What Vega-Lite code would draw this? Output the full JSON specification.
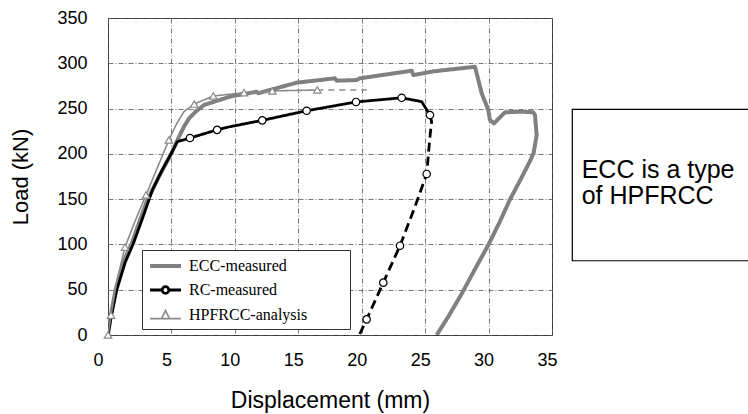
{
  "$schema": "https://vega.github.io/schema/vega-lite/v6.json",
  "autosize": "none",
  "padding": {"left": 108, "top": 18, "right": 196, "bottom": 79},
  "width": 444,
  "height": 317,
  "background": "white",
  "datasets": {
    "curves": [
      {"series": "ECC-measured", "phase": "test", "i": 0, "x": 0, "y": 0},
      {"series": "ECC-measured", "phase": "test", "i": 1, "x": 0.2, "y": 20},
      {"series": "ECC-measured", "phase": "test", "i": 2, "x": 0.6, "y": 50},
      {"series": "ECC-measured", "phase": "test", "i": 3, "x": 1.2, "y": 80},
      {"series": "ECC-measured", "phase": "test", "i": 4, "x": 1.87, "y": 101},
      {"series": "ECC-measured", "phase": "test", "i": 5, "x": 2.5, "y": 126},
      {"series": "ECC-measured", "phase": "test", "i": 6, "x": 3.1, "y": 149},
      {"series": "ECC-measured", "phase": "test", "i": 7, "x": 4.02, "y": 175},
      {"series": "ECC-measured", "phase": "test", "i": 8, "x": 4.94, "y": 199},
      {"series": "ECC-measured", "phase": "test", "i": 9, "x": 5.6, "y": 219},
      {"series": "ECC-measured", "phase": "test", "i": 10, "x": 5.99, "y": 230},
      {"series": "ECC-measured", "phase": "test", "i": 11, "x": 6.38, "y": 239},
      {"series": "ECC-measured", "phase": "test", "i": 12, "x": 6.91, "y": 246.6},
      {"series": "ECC-measured", "phase": "test", "i": 13, "x": 7.57, "y": 254},
      {"series": "ECC-measured", "phase": "test", "i": 14, "x": 8.62, "y": 258.7},
      {"series": "ECC-measured", "phase": "test", "i": 15, "x": 9.7, "y": 263.5},
      {"series": "ECC-measured", "phase": "test", "i": 16, "x": 11.72, "y": 268.6},
      {"series": "ECC-measured", "phase": "test", "i": 17, "x": 11.85, "y": 267},
      {"series": "ECC-measured", "phase": "test", "i": 18, "x": 13.03, "y": 271.5},
      {"series": "ECC-measured", "phase": "test", "i": 19, "x": 14.87, "y": 278.6},
      {"series": "ECC-measured", "phase": "test", "i": 20, "x": 17.89, "y": 283.4},
      {"series": "ECC-measured", "phase": "test", "i": 21, "x": 18.03, "y": 280.8},
      {"series": "ECC-measured", "phase": "test", "i": 22, "x": 19.6, "y": 281.5},
      {"series": "ECC-measured", "phase": "test", "i": 23, "x": 19.86, "y": 283.4},
      {"series": "ECC-measured", "phase": "test", "i": 24, "x": 23.94, "y": 291.8},
      {"series": "ECC-measured", "phase": "test", "i": 25, "x": 24.07, "y": 287},
      {"series": "ECC-measured", "phase": "test", "i": 26, "x": 24.85, "y": 289},
      {"series": "ECC-measured", "phase": "test", "i": 27, "x": 25.6, "y": 291},
      {"series": "ECC-measured", "phase": "test", "i": 28, "x": 28.93, "y": 296.2},
      {"series": "ECC-measured", "phase": "test", "i": 29, "x": 29.46, "y": 266.8},
      {"series": "ECC-measured", "phase": "test", "i": 30, "x": 29.98, "y": 248.4},
      {"series": "ECC-measured", "phase": "test", "i": 31, "x": 30.11, "y": 237.4},
      {"series": "ECC-measured", "phase": "test", "i": 32, "x": 30.43, "y": 233.7},
      {"series": "ECC-measured", "phase": "test", "i": 33, "x": 31.29, "y": 245.9},
      {"series": "ECC-measured", "phase": "test", "i": 34, "x": 32.61, "y": 246.6},
      {"series": "ECC-measured", "phase": "test", "i": 35, "x": 33.52, "y": 245.9},
      {"series": "ECC-measured", "phase": "test", "i": 36, "x": 33.66, "y": 242.9},
      {"series": "ECC-measured", "phase": "test", "i": 37, "x": 33.79, "y": 220.8},
      {"series": "ECC-measured", "phase": "test", "i": 38, "x": 33.55, "y": 201},
      {"series": "ECC-measured", "phase": "test", "i": 39, "x": 33.3, "y": 193},
      {"series": "ECC-measured", "phase": "test", "i": 40, "x": 32.5, "y": 171},
      {"series": "ECC-measured", "phase": "test", "i": 41, "x": 31.7, "y": 150},
      {"series": "ECC-measured", "phase": "test", "i": 42, "x": 30.85, "y": 124},
      {"series": "ECC-measured", "phase": "test", "i": 43, "x": 29.98, "y": 99.4},
      {"series": "ECC-measured", "phase": "test", "i": 44, "x": 28.9, "y": 72},
      {"series": "ECC-measured", "phase": "test", "i": 45, "x": 27.9, "y": 46},
      {"series": "ECC-measured", "phase": "test", "i": 46, "x": 26.9, "y": 22},
      {"series": "ECC-measured", "phase": "test", "i": 47, "x": 25.91, "y": 0},
      {"series": "RC-measured", "phase": "loading", "i": 0, "x": 0, "y": 0},
      {"series": "RC-measured", "phase": "loading", "i": 1, "x": 0.25, "y": 20},
      {"series": "RC-measured", "phase": "loading", "i": 2, "x": 0.7, "y": 50},
      {"series": "RC-measured", "phase": "loading", "i": 3, "x": 1.35, "y": 80},
      {"series": "RC-measured", "phase": "loading", "i": 4, "x": 2.0, "y": 101},
      {"series": "RC-measured", "phase": "loading", "i": 5, "x": 2.75, "y": 130},
      {"series": "RC-measured", "phase": "loading", "i": 6, "x": 3.5, "y": 160},
      {"series": "RC-measured", "phase": "loading", "i": 7, "x": 4.3, "y": 183},
      {"series": "RC-measured", "phase": "loading", "i": 8, "x": 5.05, "y": 202},
      {"series": "RC-measured", "phase": "loading", "i": 9, "x": 5.46, "y": 213.4},
      {"series": "RC-measured", "phase": "loading", "i": 10, "x": 6.46, "y": 217.5},
      {"series": "RC-measured", "phase": "loading", "i": 11, "x": 8.6, "y": 226.5},
      {"series": "RC-measured", "phase": "loading", "i": 12, "x": 9.62, "y": 230},
      {"series": "RC-measured", "phase": "loading", "i": 13, "x": 12.16, "y": 237},
      {"series": "RC-measured", "phase": "loading", "i": 14, "x": 15.66, "y": 247.6},
      {"series": "RC-measured", "phase": "loading", "i": 15, "x": 19.55, "y": 257.3},
      {"series": "RC-measured", "phase": "loading", "i": 16, "x": 23.15, "y": 261.9},
      {"series": "RC-measured", "phase": "loading", "i": 17, "x": 24.73, "y": 257.6},
      {"series": "RC-measured", "phase": "loading", "i": 18, "x": 25.38, "y": 242.9},
      {"series": "RC-measured", "phase": "unloading", "i": 19, "x": 25.38, "y": 242.9},
      {"series": "RC-measured", "phase": "unloading", "i": 20, "x": 25.51, "y": 235.5},
      {"series": "RC-measured", "phase": "unloading", "i": 21, "x": 25.38, "y": 219},
      {"series": "RC-measured", "phase": "unloading", "i": 22, "x": 25.12, "y": 177.8},
      {"series": "RC-measured", "phase": "unloading", "i": 23, "x": 24.2, "y": 141.7},
      {"series": "RC-measured", "phase": "unloading", "i": 24, "x": 23.02, "y": 98.6},
      {"series": "RC-measured", "phase": "unloading", "i": 25, "x": 21.7, "y": 57.8},
      {"series": "RC-measured", "phase": "unloading", "i": 26, "x": 20.39, "y": 17.3},
      {"series": "RC-measured", "phase": "unloading", "i": 27, "x": 19.81, "y": 0},
      {"series": "HPFRCC-analysis", "phase": "analysis", "i": 0, "x": 0, "y": 0},
      {"series": "HPFRCC-analysis", "phase": "analysis", "i": 1, "x": 0.24, "y": 22},
      {"series": "HPFRCC-analysis", "phase": "analysis", "i": 2, "x": 0.7, "y": 60},
      {"series": "HPFRCC-analysis", "phase": "analysis", "i": 3, "x": 1.34, "y": 97},
      {"series": "HPFRCC-analysis", "phase": "analysis", "i": 4, "x": 2.2, "y": 128},
      {"series": "HPFRCC-analysis", "phase": "analysis", "i": 5, "x": 3.0, "y": 154.6},
      {"series": "HPFRCC-analysis", "phase": "analysis", "i": 6, "x": 3.9, "y": 185},
      {"series": "HPFRCC-analysis", "phase": "analysis", "i": 7, "x": 4.8, "y": 215.3},
      {"series": "HPFRCC-analysis", "phase": "analysis", "i": 8, "x": 5.4, "y": 233},
      {"series": "HPFRCC-analysis", "phase": "analysis", "i": 9, "x": 5.99, "y": 246.6},
      {"series": "HPFRCC-analysis", "phase": "analysis", "i": 10, "x": 6.8, "y": 255},
      {"series": "HPFRCC-analysis", "phase": "analysis", "i": 11, "x": 8.3, "y": 263.9},
      {"series": "HPFRCC-analysis", "phase": "analysis", "i": 12, "x": 10.72, "y": 267.5},
      {"series": "HPFRCC-analysis", "phase": "analysis", "i": 13, "x": 12.95, "y": 269.5},
      {"series": "HPFRCC-analysis", "phase": "analysis", "i": 14, "x": 16.5, "y": 270.5},
      {"series": "HPFRCC-analysis", "phase": "extension", "i": 15, "x": 16.5, "y": 270.5},
      {"series": "HPFRCC-analysis", "phase": "extension", "i": 16, "x": 20.4, "y": 270.5}
    ],
    "markers": [
      {"series": "RC-measured", "x": 6.46, "y": 217.5},
      {"series": "RC-measured", "x": 8.6, "y": 226.5},
      {"series": "RC-measured", "x": 12.16, "y": 237},
      {"series": "RC-measured", "x": 15.66, "y": 247.6},
      {"series": "RC-measured", "x": 19.55, "y": 257.3},
      {"series": "RC-measured", "x": 23.15, "y": 261.9},
      {"series": "RC-measured", "x": 25.38, "y": 242.9},
      {"series": "RC-measured", "x": 25.12, "y": 177.8},
      {"series": "RC-measured", "x": 23.02, "y": 98.6},
      {"series": "RC-measured", "x": 21.7, "y": 57.8},
      {"series": "RC-measured", "x": 20.39, "y": 17.3},
      {"series": "HPFRCC-analysis", "x": 0, "y": 0},
      {"series": "HPFRCC-analysis", "x": 0.24, "y": 22},
      {"series": "HPFRCC-analysis", "x": 1.34, "y": 97},
      {"series": "HPFRCC-analysis", "x": 3.0, "y": 154.6},
      {"series": "HPFRCC-analysis", "x": 4.8, "y": 215.3},
      {"series": "HPFRCC-analysis", "x": 6.8, "y": 255},
      {"series": "HPFRCC-analysis", "x": 8.3, "y": 263.9},
      {"series": "HPFRCC-analysis", "x": 10.72, "y": 267.5},
      {"series": "HPFRCC-analysis", "x": 12.95, "y": 269.5},
      {"series": "HPFRCC-analysis", "x": 16.5, "y": 270.5}
    ],
    "notes": [
      {"note": "ECC is a type\nof HPFRCC"}
    ]
  },
  "layer": [
    {
      "data": {"name": "curves"},
      "mark": {"type": "line", "clip": true, "strokeJoin": "round"},
      "encoding": {
        "x": {
          "field": "x", "type": "quantitative",
          "scale": {"domain": [0, 35], "nice": false},
          "axis": {
            "title": "Displacement (mm)",
            "values": [0, 5, 10, 15, 20, 25, 30, 35],
            "labelFlush": false,
            "labelPadding": 16,
            "titlePadding": 20,
            "titleFontSize": 23,
            "labelOffset": -5,
            "labelAlign": {"condition": {"test": "datum.value === 0", "value": "right"}, "value": "center"}
          }
        },
        "y": {
          "field": "y", "type": "quantitative",
          "scale": {"domain": [0, 350], "nice": false},
          "axis": {"title": "Load (kN)", "values": [0, 50, 100, 150, 200, 250, 300, 350], "labelPadding": 21, "titlePadding": 24}
        },
        "order": {"field": "i", "type": "quantitative"},
        "color": {
          "field": "series", "type": "nominal",
          "scale": {"domain": ["ECC-measured", "RC-measured", "HPFRCC-analysis"], "range": ["#808080", "#000000", "#8a8a8a"]},
          "legend": {
            "title": null,
            "orient": "none",
            "legendX": 34,
            "legendY": 232,
            "strokeColor": "#333333",
            "fillColor": "white",
            "padding": 6,
            "labelFont": "Liberation Serif",
            "labelFontSize": 16,
            "labelColor": "black",
            "labelExpr": "datum.label + '         \u200b'",
            "symbolSize": 256,
            "labelOffset": 21,
            "rowPadding": 6.5,
            "encode": {
              "symbols": {
                "update": {
                  "shape": {"signal": "datum.value === 'ECC-measured' ? 'M-1,0H2.875' : datum.value === 'RC-measured' ? 'M-1,0H0.5175M1.3575,0H2.875M0.5175,0A0.42,0.42,0,1,1,1.3575,0A0.42,0.42,0,1,1,0.5175,0' : 'M-1,0.45H2.875M0.4375,0.45L0.9375,-0.55L1.4375,0.45Z'"},
                  "fill": {"value": "white"},
                  "strokeWidth": {"signal": "datum.value === 'ECC-measured' ? 4 : datum.value === 'RC-measured' ? 1.5 : 1"}
                }
              }
            }
          }
        },
        "strokeWidth": {
          "field": "series", "type": "nominal",
          "scale": {"domain": ["ECC-measured", "RC-measured", "HPFRCC-analysis"], "range": [4, 1.6, 1]},
          "legend": null
        },
        "strokeDash": {
          "field": "phase", "type": "nominal",
          "scale": {"domain": ["test", "loading", "analysis", "unloading", "extension"], "range": [[1, 0], [1, 0], [1, 0], [9, 5], [6, 5]]},
          "legend": null
        }
      }
    },
    {
      "data": {"name": "markers"},
      "mark": {"type": "point", "filled": false, "fill": "white", "fillOpacity": 1, "opacity": 1, "size": 55, "strokeWidth": 1.2},
      "encoding": {
        "x": {"field": "x", "type": "quantitative"},
        "y": {"field": "y", "type": "quantitative"},
        "shape": {
          "field": "series", "type": "nominal",
          "scale": {"domain": ["RC-measured", "HPFRCC-analysis"], "range": ["circle", "triangle-up"]},
          "legend": null
        },
        "stroke": {
          "field": "series", "type": "nominal",
          "scale": {"domain": ["RC-measured", "HPFRCC-analysis"], "range": ["#000000", "#8a8a8a"]},
          "legend": null
        }
      }
    },
    {
      "data": {"name": "notes"},
      "mark": {"type": "rect", "fill": "white", "stroke": "black", "strokeWidth": 1.2, "clip": false},
      "encoding": {
        "x": {"datum": 36.6, "type": "quantitative"},
        "x2": {"datum": 52},
        "y": {"datum": 249.2, "type": "quantitative"},
        "y2": {"datum": 82}
      }
    },
    {
      "data": {"name": "notes"},
      "mark": {"type": "text", "align": "left", "baseline": "middle", "font": "Liberation Sans", "fontSize": 25, "lineHeight": 25.5, "lineBreak": "\n", "color": "black"},
      "encoding": {
        "x": {"datum": 37.34, "type": "quantitative"},
        "y": {"datum": 182, "type": "quantitative"},
        "text": {"field": "note"}
      }
    }
  ],
  "resolve": {"scale": {"stroke": "independent"}},
  "config": {
    "view": {"stroke": "#333333", "strokeWidth": 1},
    "axis": {
      "grid": true,
      "gridColor": "#555555",
      "gridDash": [5, 2, 1, 2],
      "gridWidth": 0.8,
      "ticks": false,
      "domain": false,
      "labelFont": "Liberation Sans",
      "labelFontSize": 18,
      "labelColor": "black",
      "titleFont": "Liberation Sans",
      "titleFontSize": 22,
      "titleFontWeight": "normal",
      "titleColor": "black"
    }
  }
}
